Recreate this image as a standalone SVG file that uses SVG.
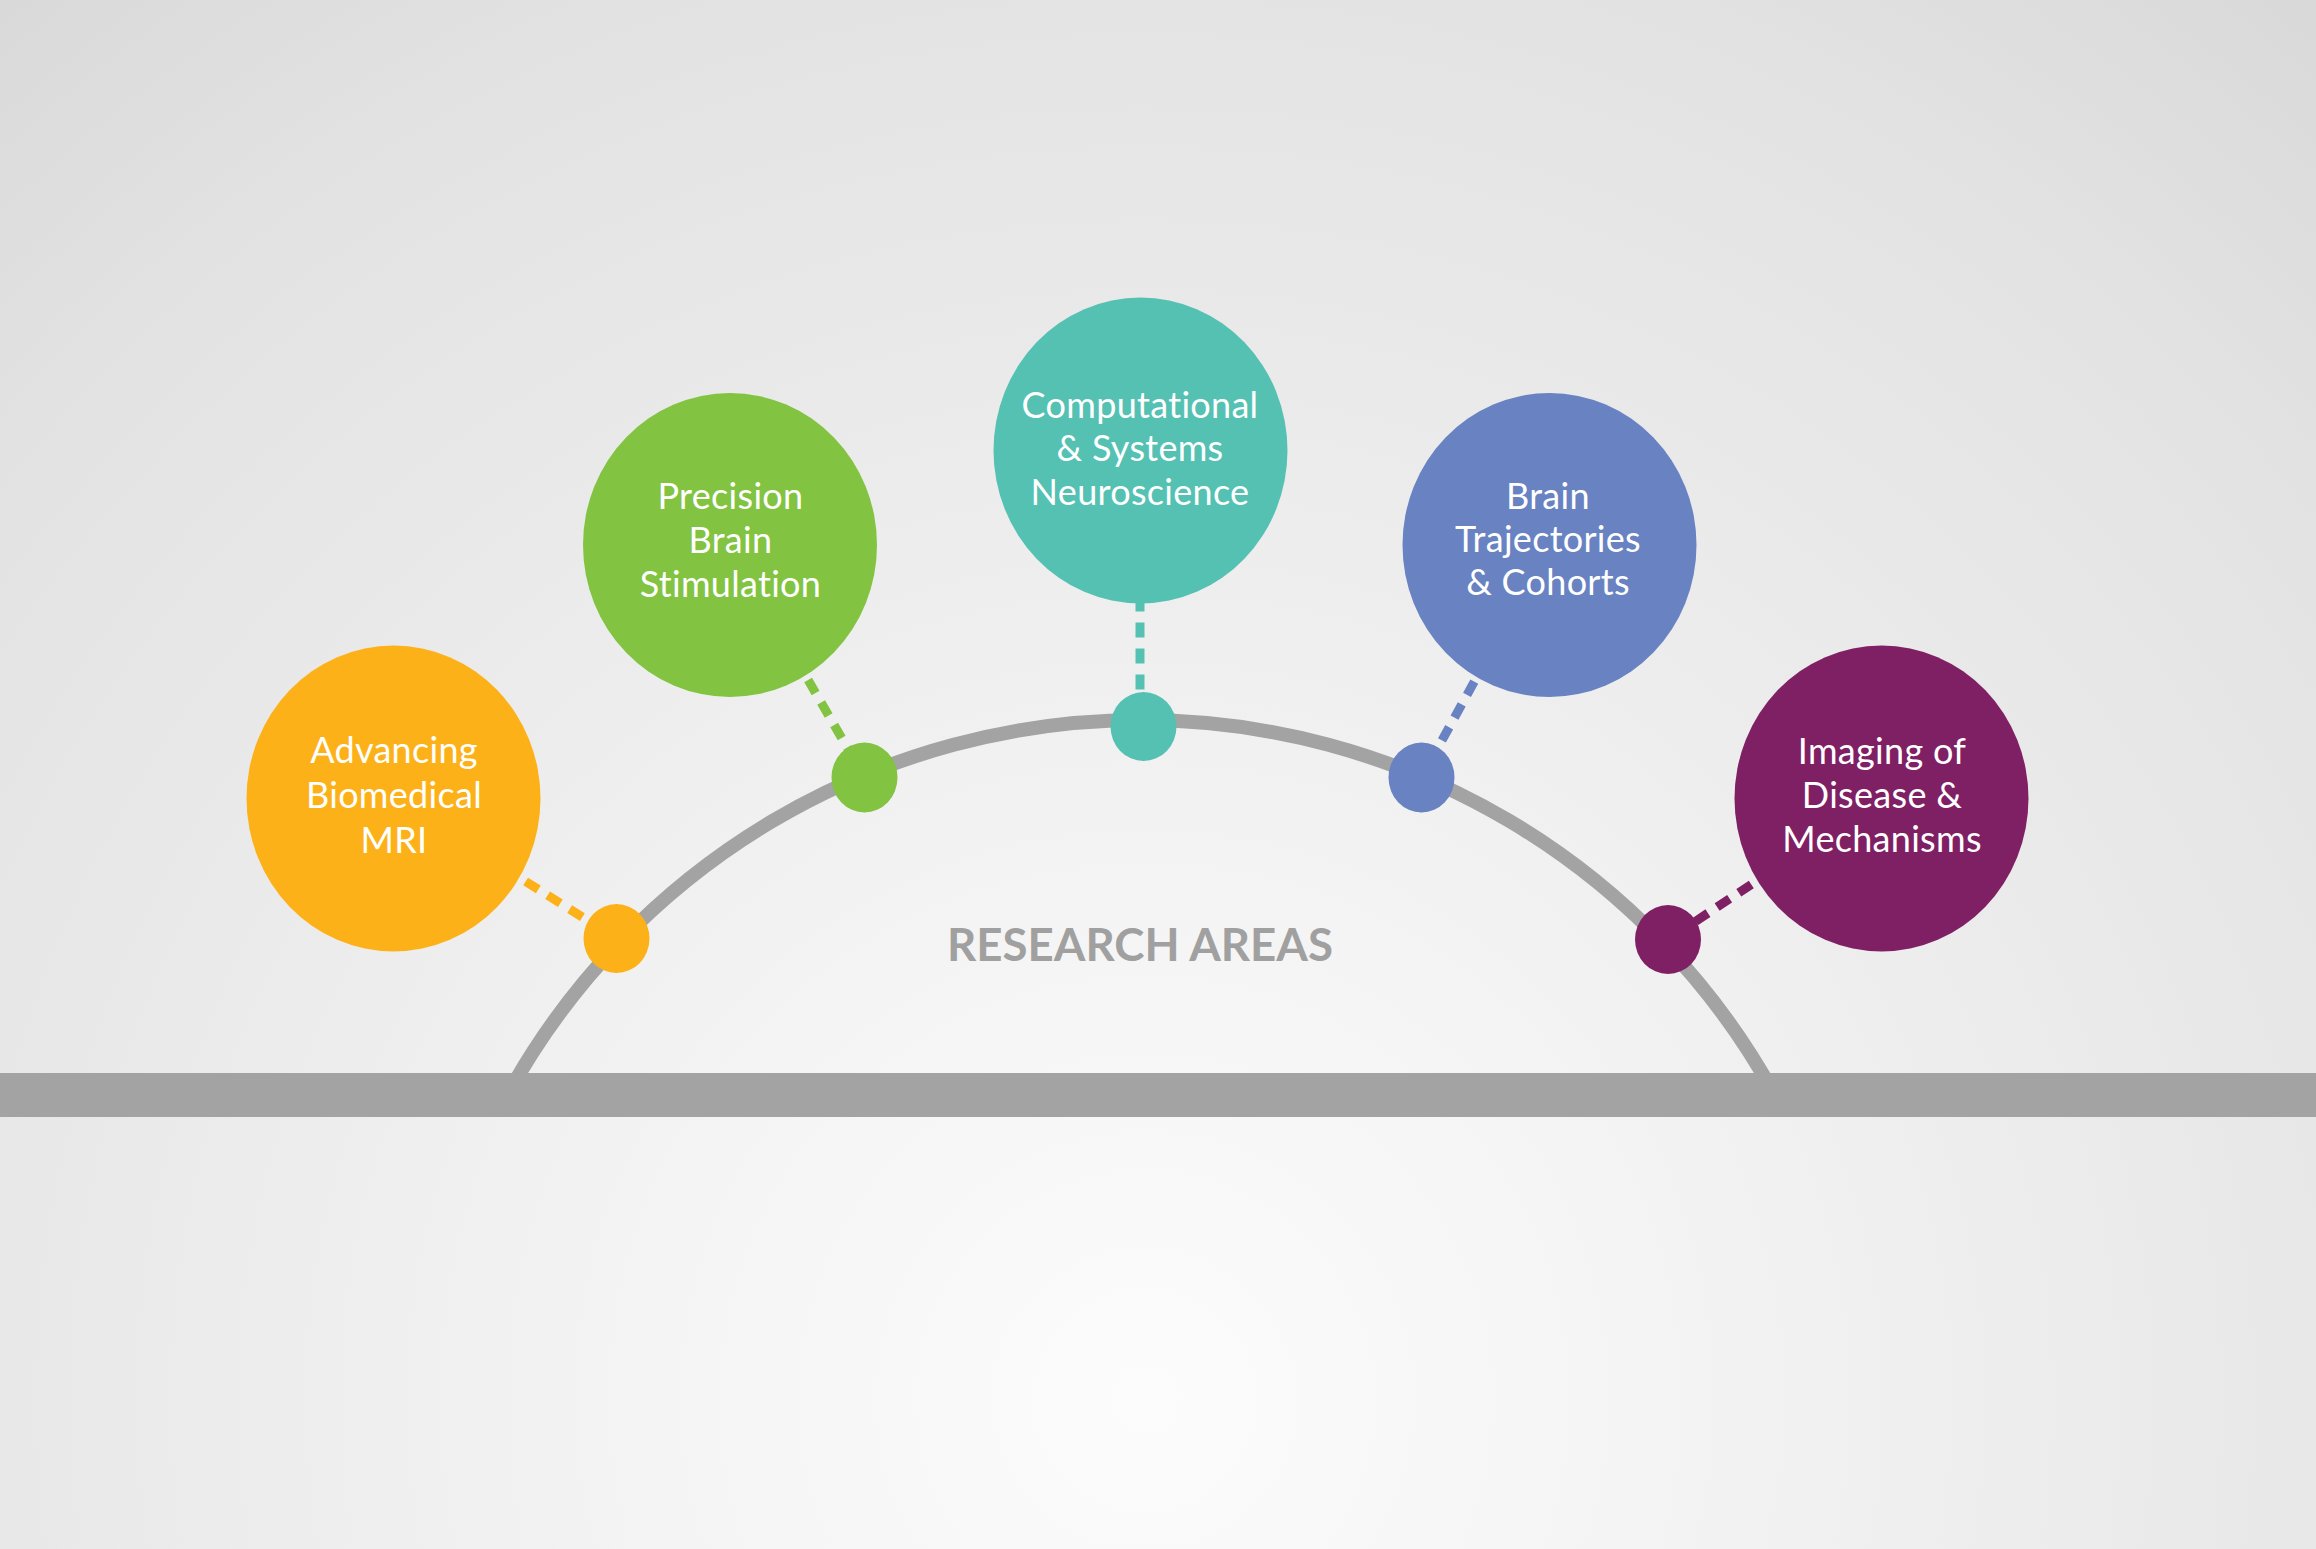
<svg xmlns="http://www.w3.org/2000/svg" width="2316" height="1549" viewBox="0 0 2316 1549">
  <defs>
    <radialGradient id="bg" gradientUnits="userSpaceOnUse" cx="1145" cy="1400" r="1850">
      <stop offset="0" stop-color="#fcfcfc"/>
      <stop offset="0.27" stop-color="#f4f4f4"/>
      <stop offset="0.62" stop-color="#e8e8e8"/>
      <stop offset="0.78" stop-color="#e3e3e3"/>
      <stop offset="1" stop-color="#d8d8d8"/>
    </radialGradient>
    <style>
      .track { fill: none; stroke: #a3a3a3; stroke-width: 14; }
      .link { fill: none; stroke-width: 9; stroke-dasharray: 15 11; }
      .label { font-family: Lato, "Noto Sans", "Liberation Sans", sans-serif; font-size: 36px; fill: #ffffff; text-anchor: middle; font-variant-ligatures: none; letter-spacing: 0.3px; }
      .title { font-family: Lato, "Noto Sans", "Liberation Sans", sans-serif; font-size: 46px; font-weight: 700; fill: #a0a0a0; text-anchor: middle; }
      .orange { fill: #fdb119; stroke: #fdb119; }
      .green { fill: #82c341; stroke: #82c341; }
      .teal { fill: #55c1b3; stroke: #55c1b3; }
      .blue { fill: #6882c2; stroke: #6882c2; }
      .purple { fill: #7f2064; stroke: #7f2064; }
      .link.orange, .link.green, .link.teal, .link.blue, .link.purple { fill: none; }
      .node ellipse { stroke: none; }
    </style>
  </defs>

  <!-- backdrop -->
  <rect x="0" y="0" width="2316" height="1549" fill="url(#bg)"/>

  <!-- semicircular track -->
  <g id="track">
    <path class="track" d="M 507.3 1095 A 723 723 0 0 1 1774.7 1095"/>
  </g>

  <!-- dashed links from each area to its point on the track -->
  <g id="connectors">
    <line class="link orange" x1="393.5" y1="798.5" x2="616.5" y2="938.5"/>
    <line class="link green" x1="730" y1="545" x2="864.5" y2="777.5"/>
    <line class="link teal" x1="1140" y1="450.5" x2="1140" y2="726.5" stroke-dashoffset="10"/>
    <line class="link blue" x1="1549.5" y1="545" x2="1421.5" y2="777.5"/>
    <line class="link purple" x1="1881.5" y1="798.5" x2="1668" y2="939.5"/>
  </g>

  <!-- base bar -->
  <rect id="base" x="0" y="1073" width="2316" height="44" fill="#a3a3a3"/>

  <text class="title" x="1140" y="961" textLength="386" lengthAdjust="spacingAndGlyphs">RESEARCH AREAS</text>

  <g id="node-mri" class="node">
    <ellipse class="orange" cx="616.5" cy="938.5" rx="33" ry="34.5"/>
    <ellipse class="orange" cx="393.5" cy="798.5" rx="147" ry="153"/>
    <text class="label" x="394" y="763">Advancing</text>
    <text class="label" x="394" y="808">Biomedical</text>
    <text class="label" x="394" y="853">MRI</text>
  </g>

  <g id="node-stimulation" class="node">
    <ellipse class="green" cx="864.5" cy="777.5" rx="33" ry="35"/>
    <ellipse class="green" cx="730" cy="545" rx="147" ry="152"/>
    <text class="label" x="730.5" y="509">Precision</text>
    <text class="label" x="730.5" y="553">Brain</text>
    <text class="label" x="730.5" y="597">Stimulation</text>
  </g>

  <g id="node-computational" class="node">
    <ellipse class="teal" cx="1143.5" cy="726.5" rx="33" ry="34.5"/>
    <ellipse class="teal" cx="1140.5" cy="450.5" rx="147" ry="153"/>
    <text class="label" x="1140" y="418">Computational</text>
    <text class="label" x="1140" y="461">&amp; Systems</text>
    <text class="label" x="1140" y="505">Neuroscience</text>
  </g>

  <g id="node-trajectories" class="node">
    <ellipse class="blue" cx="1421.5" cy="777.5" rx="33" ry="35"/>
    <ellipse class="blue" cx="1549.5" cy="545" rx="147" ry="152"/>
    <text class="label" x="1548" y="509">Brain</text>
    <text class="label" x="1548" y="552">Trajectories</text>
    <text class="label" x="1548" y="595">&amp; Cohorts</text>
  </g>

  <g id="node-disease" class="node">
    <ellipse class="purple" cx="1668" cy="939.5" rx="33" ry="34.5"/>
    <ellipse class="purple" cx="1881.5" cy="798.5" rx="147" ry="153"/>
    <text class="label" x="1882" y="764">Imaging of</text>
    <text class="label" x="1882" y="808">Disease &amp;</text>
    <text class="label" x="1882" y="852">Mechanisms</text>
  </g>
</svg>
